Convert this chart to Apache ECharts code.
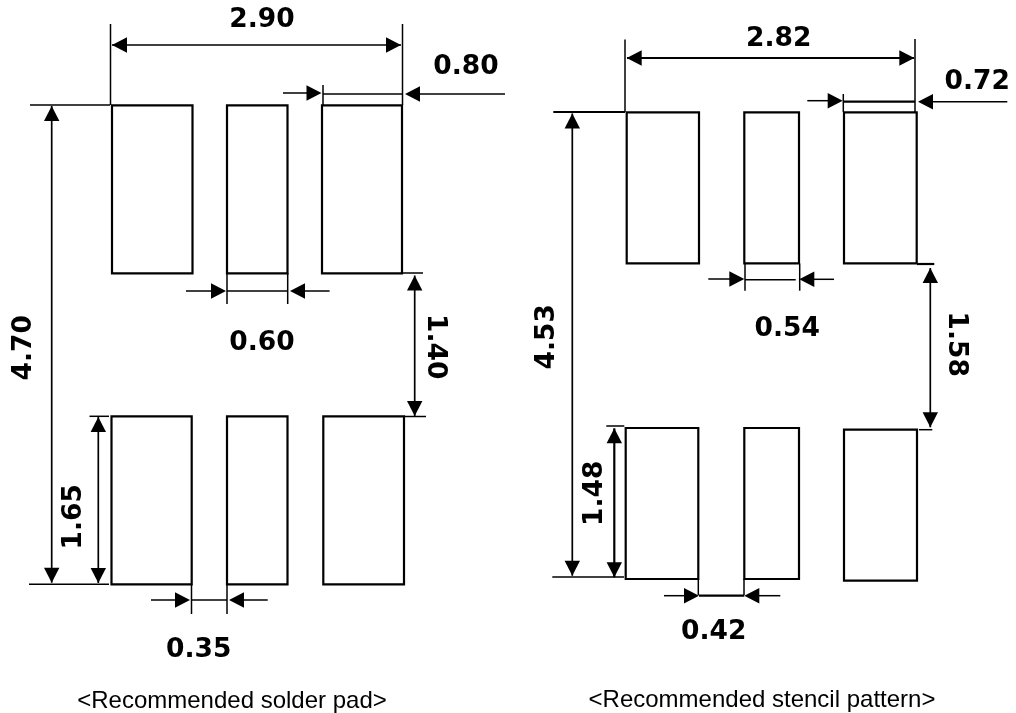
<!DOCTYPE html>
<html><head><meta charset="utf-8">
<style>html,body{margin:0;padding:0;background:#fff}#c{width:1016px;height:713px}</style>
<script src="https://cdn.jsdelivr.net/npm/echarts@6/dist/echarts.min.js"></script>
</head><body><div id="c"></div>
<script>
// Diagram geometry, in axis units: [x0, y0, x1, y1]
const padRects = [
  [112,105.3,192.5,273.3],[227,105.3,287.5,273.3],[322,105.3,402,273.3],
  [111.5,416.3,191.7,584.3],[227,416.3,287.5,584.3],[323.3,416.3,404,584.3]
];
const stencilRects = [
  [626.7,112.3,699,263.3],[744.3,112.3,799,263.3],[844,112.3,916.7,263.3],
  [625.7,428,698.3,579],[744.3,428,799,579],[844,429.7,917,580.7]
];
const thinLines = [
  [110.5,24,110.5,105],[402.5,24,402.5,105],[30,105,110,105],[29,584.3,109,584.3],
  [323,85,323,105],[323,94,402,94],[283,93,310,93],[418,94,505,94],
  [227,273,227,304],[287.7,273,287.7,304],[227,291,287.7,291],[186,291,212,291],[303,291,329.6,291],
  [402,273,423,273],[404,416.5,426,416.5],[89.5,416.3,109,416.3],
  [191.5,584,191.5,614],[227,584,227,614],[191.5,600,227,600],[151,600,176,600],[243,600,267.7,600],
  [625,39.5,625,112],[915,39,915,112],
  [843.3,94,843.3,112],[807.3,100.7,829,100.7],[931,101.7,1007.3,101.7],
  [745,263.5,745,290.7],[799.7,263.5,799.7,290.7],[745,279.7,795.7,279.7],[708.3,279,730,279],[813,279.3,834,279.3],
  [919,429.7,932.3,429.7],[606.3,426,624.3,426],[552.3,577,624,577],
  [698.3,579,698.3,595],[744,579,744,595],[664,595.7,685,595.7],[758,595.7,780.3,595.7]
];
const midLines = [
  [112,45,401,45],[51.7,106,51.7,582.7],[414.7,275.5,414.7,416],[98.3,417,98.3,583],
  [572.3,113.5,572.3,575.7],[930.3,268,930.3,427.3]
];
const heavyLines = [
  [627,58,914,58],[553.3,112,625,112],[843.5,101.7,915,101.7],[917,264,934.3,264],
  [614.3,428.3,614.3,577.3],[699,595.7,744.3,595.7]
];
// Arrow tips: [x, y]
const arrowsLeft  = [[112,45],[405,94],[290,291],[229,600],[626.7,58],[918,101.7],[799.3,279.3],[744.3,595.7]];
const arrowsRight = [[401,45],[321.5,93],[226,291],[190,600],[914.3,58],[842.7,100.7],[744.3,279],[699,595.7]];
const arrowsUp    = [[51.7,106],[414.7,275.5],[98.3,417],[572.3,113.5],[930.3,268],[614.3,428.3]];
const arrowsDown  = [[51.7,582.7],[414.7,416],[98.3,583],[572.3,575.7],[930.3,427.3],[614.3,577.3]];
// Text labels: [x, y, text]
const labelsFlat = [
  [262,18,'2.90'],[466,65,'0.80'],[262,340.7,'0.60'],[198.8,648,'0.35'],
  [778.7,36.7,'2.82'],[977.3,79.3,'0.72'],[787.3,326.7,'0.54'],[713.7,630,'0.42']
];
const labelsCCW = [[21.7,347.7,'4.70'],[71.7,516.7,'1.65'],[545,336.7,'4.53'],[592.3,493.3,'1.48']];
const labelsCW  = [[437,346.7,'1.40'],[958.3,344.3,'1.58']];
const captions  = [[232,699.5,'<Recommended solder pad>'],[762,699,'<Recommended stencil pattern>']];

const INK = '#000';
const boldFont = 'bold 26.5px "DejaVu Sans"';
const capFont = '24px "Liberation Sans"';

function rectSeries(data){
  return {type:'custom',coordinateSystem:'cartesian2d',silent:true,data,
    encode:{x:[0,2],y:[1,3]},
    renderItem(p,api){
      const a=api.coord([api.value(0),api.value(1)]),b=api.coord([api.value(2),api.value(3)]);
      return {type:'rect',shape:{x:a[0],y:a[1],width:b[0]-a[0],height:b[1]-a[1]},
        style:{fill:'#fff',stroke:INK,lineWidth:2.2}};
    }};
}
function lineSeries(data,w){
  return {type:'custom',coordinateSystem:'cartesian2d',silent:true,data,
    encode:{x:[0,2],y:[1,3]},
    renderItem(p,api){
      const a=api.coord([api.value(0),api.value(1)]),b=api.coord([api.value(2),api.value(3)]);
      return {type:'line',shape:{x1:a[0],y1:a[1],x2:b[0],y2:b[1]},style:{stroke:INK,lineWidth:w}};
    }};
}
function arrowSeries(data,dx,dy){
  const L=15,H=7.7;
  return {type:'custom',coordinateSystem:'cartesian2d',silent:true,data,
    encode:{x:0,y:1},
    renderItem(p,api){
      const t=api.coord([api.value(0),api.value(1)]);
      const bx=t[0]+dx*L,by=t[1]+dy*L;
      return {type:'polygon',shape:{points:[t,[bx-dy*H,by-dx*H],[bx+dy*H,by+dx*H]]},style:{fill:INK}};
    }};
}
function textSeries(data,font,rotation,ox,oy){
  return {type:'custom',coordinateSystem:'cartesian2d',silent:true,data,
    encode:{x:0,y:1},
    renderItem(p,api){
      const c=api.coord([api.value(0),api.value(1)]);
      return {type:'text',x:c[0]+ox,y:c[1]+oy,rotation,
        style:{text:data[p.dataIndex][2],font,fill:INK,align:'center',verticalAlign:'middle'}};
    }};
}
const chart=echarts.init(document.getElementById('c'),null,{renderer:'canvas'});
chart.setOption({
  animation:false,backgroundColor:'#fff',tooltip:{show:false},
  grid:{left:0,right:0,top:0,bottom:0},
  xAxis:{type:'value',min:0,max:1016,show:false},
  yAxis:{type:'value',min:0,max:713,inverse:true,show:false},
  series:[
    lineSeries(thinLines,1.5),lineSeries(midLines,1.7),lineSeries(heavyLines,2.2),
    rectSeries(padRects),rectSeries(stencilRects),
    arrowSeries(arrowsLeft,1,0),arrowSeries(arrowsRight,-1,0),
    arrowSeries(arrowsUp,0,1),arrowSeries(arrowsDown,0,-1),
    textSeries(labelsFlat,boldFont,0,0,2.5),
    textSeries(labelsCCW,boldFont,Math.PI/2,2.5,0),
    textSeries(labelsCW,boldFont,-Math.PI/2,-2.5,0),
    textSeries(captions,capFont,0,0,1.5)
  ]
});
</script></body></html>
